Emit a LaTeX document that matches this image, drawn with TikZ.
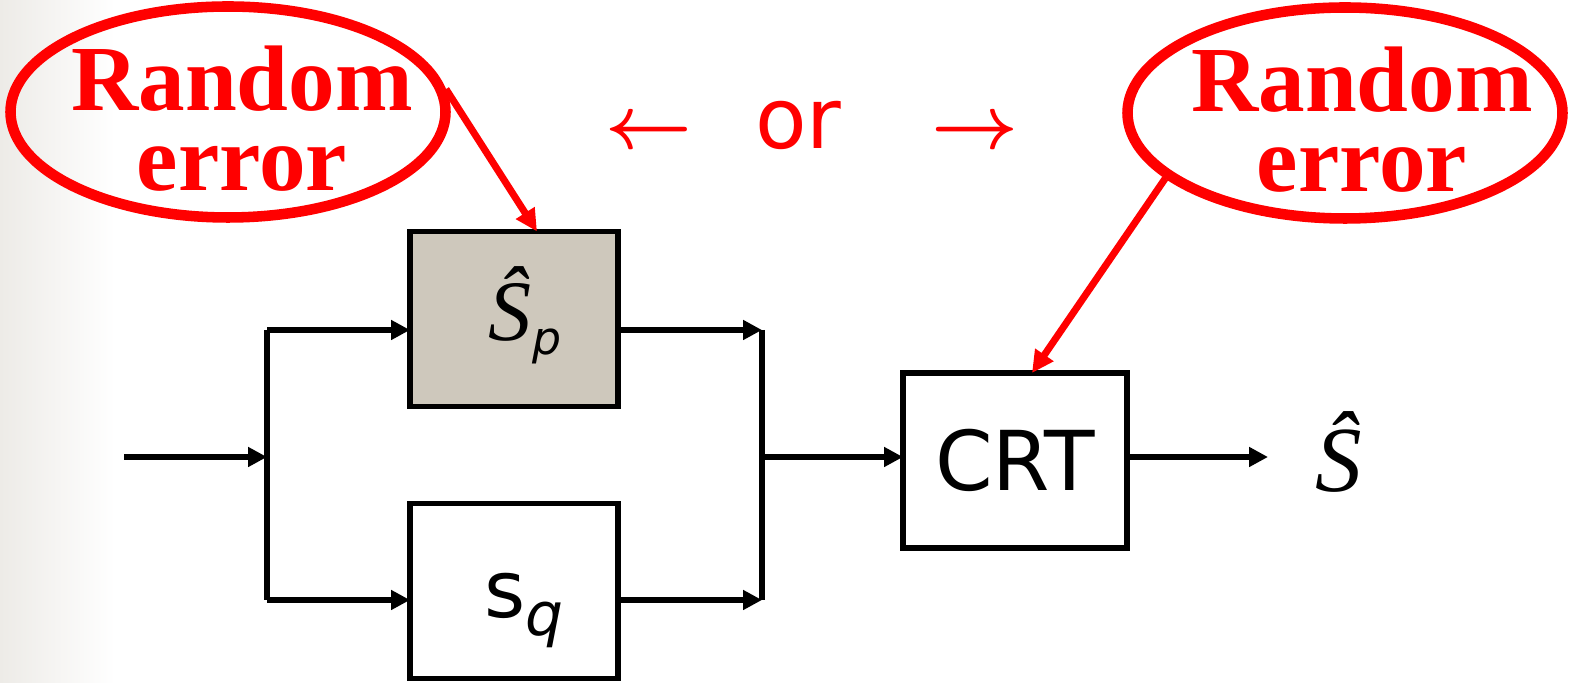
\documentclass[tikz,border=0pt]{standalone}
\usepackage{fix-cm}
\usepackage{bm}
\usepackage{fontspec}
\setmainfont{Liberation Serif}
\setsansfont{DejaVu Sans}
\usepackage{tikz}
\usetikzlibrary{arrows.meta,positioning,shapes.geometric,calc}
\usepackage{xcolor}
\definecolor{boxgray}{HTML}{CEC8BC}
\definecolor{edgegray}{HTML}{EDEBE7}
\definecolor{errred}{HTML}{FF0000}

\begin{document}
\begin{tikzpicture}[
  block/.style={rectangle,draw=black,line width=3.2pt,minimum width=4.16cm,
    minimum height=3.5cm,inner sep=0pt,outer sep=0pt,
    font=\sffamily\fontsize{47}{47}\selectfont},
  errell/.style={ellipse,draw=errred,line width=6pt,minimum width=8.7cm,
    minimum height=4.22cm,inner sep=0pt},
  errtext/.style={text=errred,align=center,inner sep=0pt,
    font=\fontsize{53}{45.5}\selectfont\bfseries},
  wire/.style={line width=3pt},
  arrow/.style={-{Triangle[length=0.38cm,width=0.38cm]},line width=3pt},
  redarrow/.style={-{Triangle[length=0.44cm,width=0.42cm]},line width=4pt,errred},
]
\useasboundingbox (0,0) rectangle (31.58,13.66);

% Slide edge
\shade[left color=edgegray,right color=white] (0,0) rectangle (2.3,13.66);

% Main blocks
\node[block,fill=boxgray] (sp) at (10.28,7.28) {};
\node[block,below=1.94cm of sp] (sq) {};
\node[block,minimum width=4.48cm] (crt) at (20.3,4.45) {CRT};

% Block texts
\node[inner sep=0pt,font=\fontsize{49}{49}\selectfont\itshape] (sptxt)
  at ([xshift=0.22cm,yshift=0.08cm]sp)
  {Ŝ\raisebox{-0.28cm}{\sffamily\fontsize{26}{26}\selectfont p}};
\node[inner sep=0pt,font=\sffamily\fontsize{45}{45}\selectfont] (sqtxt)
  at ([xshift=0.2cm,yshift=-0.4cm]sq)
  {s\raisebox{-0.36cm}{\itshape\fontsize{34}{34}\selectfont q}};

% Branch points
\coordinate (inp) at (2.48,4.52);
\coordinate (splitT) at (5.34,7.06);
\coordinate (splitM) at (5.34,4.52);
\coordinate (splitB) at (5.34,1.66);
\coordinate (mergeT) at (15.24,7.06);
\coordinate (mergeM) at (15.24,4.52);
\coordinate (mergeB) at (15.24,1.66);
\coordinate (outend) at (25.36,4.52);

% Output
\node[inner sep=0pt,right=0.95cm of outend,yshift=0.1cm,
  font=\fontsize{53}{53}\selectfont\itshape] (shat) {Ŝ};

% Random error notes
\node[errell] (errL) at (4.56,11.42) {};
\node[errtext] (errLtxt) at ([xshift=0.28cm,yshift=-0.13cm]errL) {Random\\error};
\node[errell] (errR) at (26.9,11.4) {};
\node[errtext] (errRtxt) at ([xshift=0.34cm,yshift=-0.13cm]errR) {Random\\error};
\node[text=errred,inner sep=0pt,font=\sffamily\fontsize{48}{48}\selectfont] (either)
  at (16.24,11.16)
  {{\fontsize{43}{43}\selectfont$\bm{\leftarrow}$}\hspace{1.25cm}or\hspace{1.8cm}{\fontsize{43}{43}\selectfont$\bm{\rightarrow}$}};

% Arrows
\draw[arrow] (inp) -- (splitM);
\draw[wire] (splitT) -- (splitB);
\draw[arrow] (splitT) -- (splitT -| sp.west);
\draw[arrow] (splitB) -- (splitB -| sq.west);
\draw[arrow] (mergeT -| sp.east) -- (mergeT);
\draw[arrow] (mergeB -| sq.east) -- (mergeB);
\draw[wire] (mergeT) -- (mergeB);
\draw[arrow] (mergeM) -- (crt.west |- mergeM);
\draw[arrow] (crt.east |- mergeM) -- (outend);

% Error injection
\draw[redarrow] (errL.6) -- ([xshift=0.46cm]sp.north);
\draw[redarrow] (errR.200) -- ([xshift=0.34cm]crt.north);

\end{tikzpicture}
\end{document}
